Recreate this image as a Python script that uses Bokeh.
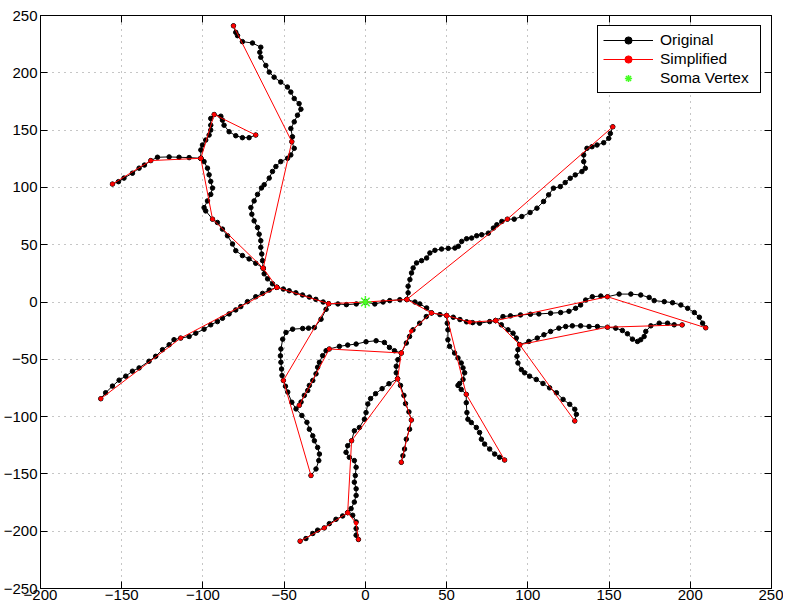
from bokeh.plotting import figure
from bokeh.models import Range1d, FixedTicker, LinearAxis, Legend, LegendItem
from bokeh.embed import file_html
from bokeh.resources import INLINE

# ---------------- axes ----------------
x_ticks = [-200, -150, -100, -50, 0, 50, 100, 150, 200, 250]
x_tick_labels = ["\u2212200", "\u2212150", "\u2212100", "\u221250", "0", "50", "100", "150", "200", "250"]
y_ticks = [-250, -200, -150, -100, -50, 0, 50, 100, 150, 200, 250]
y_tick_labels = ["\u2212250", "\u2212200", "\u2212150", "\u2212100", "\u221250", "0", "50", "100", "150", "200", "250"]

legend_labels = ["Original", "Simplified", "Soma Vertex"]

# ---------------- soma ----------------
soma_x = [0.0]
soma_y = [0.0]

# ---------------- original tracing (branches) ----------------
orig_trunk_left = [(0.0, 0.0), (-5.6, -1.7), (-11.7, -2.3), (-16.9, -1.7), (-22.6, -1.5), (-26.0, 0.0),
                   (-30.5, 2.3), (-34.5, 4.3), (-38.7, 6.1), (-42.8, 8.0), (-46.9, 9.8), (-50.5, 11.3),
                   (-54.5, 12.8)]
orig_left_down = [(-54.5, 12.8), (-59.2, 10.4), (-63.3, 7.5), (-67.5, 4.6), (-72.6, 0.3), (-76.7, -4.0),
                  (-79.8, -6.9), (-83.9, -10.4), (-88.0, -14.2), (-91.1, -17.1), (-95.2, -19.9),
                  (-99.3, -23.7), (-104.4, -27.2), (-108.5, -30.1), (-113.7, -31.5), (-117.8, -32.9),
                  (-120.8, -37.3), (-124.9, -41.6), (-129.1, -47.4), (-133.2, -51.7), (-139.3, -57.5),
                  (-143.4, -60.4), (-147.5, -64.7), (-151.6, -68.2), (-155.7, -73.4), (-159.9, -79.2),
                  (-162.9, -84.4)]
orig_up_stem = [(-54.5, 12.8), (-57.2, 15.9), (-60.2, 20.2), (-62.3, 24.6), (-62.9, 29.5)]
orig_top = [(-62.9, 29.5), (-63.3, 36.1), (-63.8, 41.9), (-64.4, 47.7), (-64.4, 53.5), (-65.4, 59.2),
            (-66.4, 65.0), (-68.5, 70.8), (-69.9, 76.6), (-70.5, 82.4), (-68.5, 88.2), (-66.4, 93.9),
            (-64.0, 99.5), (-62.3, 102.3), (-59.2, 108.1), (-57.2, 113.9), (-55.1, 118.2), (-52.1, 122.5),
            (-47.9, 125.4), (-45.9, 128.3), (-43.8, 134.1), (-45.3, 139.9), (-44.9, 144.2), (-45.9, 151.4),
            (-43.8, 157.2), (-41.8, 163.0), (-39.7, 168.2), (-40.8, 173.1), (-43.8, 177.5), (-45.9, 183.2),
            (-48.0, 187.6), (-52.1, 191.9), (-56.2, 196.2), (-59.2, 200.6), (-61.3, 206.4), (-64.4, 213.6),
            (-65.0, 217.9), (-64.4, 222.3), (-69.5, 226.0), (-75.7, 227.2), (-78.7, 232.4), (-79.8, 235.3),
            (-81.2, 241.0)]
orig_left_up = [(-62.9, 29.5), (-67.5, 33.8), (-71.6, 37.6), (-75.7, 40.5), (-79.8, 44.8), (-81.8, 50.6),
                (-84.9, 57.8), (-88.0, 63.6), (-91.1, 69.4), (-94.1, 72.3), (-98.3, 79.5), (-99.3, 82.4),
                (-97.2, 88.2), (-95.2, 93.9), (-94.1, 99.4), (-95.2, 105.2), (-96.2, 111.0), (-97.2, 116.8),
                (-99.3, 122.5), (-101.3, 125.4)]
orig_far_left = [(-101.3, 125.4), (-108.5, 126.0), (-114.7, 126.3), (-120.8, 126.6), (-128.0, 126.3),
                 (-132.1, 123.4), (-136.0, 119.5), (-139.3, 116.8), (-143.4, 112.4), (-148.6, 108.1),
                 (-152.0, 105.0), (-155.7, 102.9)]
orig_hook = [(-101.3, 125.4), (-101.3, 132.7), (-100.3, 137.0), (-98.3, 141.3), (-96.2, 145.7),
             (-95.2, 150.0), (-95.2, 154.3), (-95.2, 160.1), (-93.1, 163.6), (-89.0, 162.1), (-88.0, 158.7),
             (-87.0, 154.3), (-83.9, 148.6), (-79.8, 145.1), (-75.7, 143.4), (-71.6, 143.4), (-67.5, 145.7)]
orig_L1 = [(-22.6, -1.5), (-24.2, -6.4), (-27.3, -15.0), (-31.4, -22.3), (-35.0, -22.8), (-38.6, -23.1),
           (-44.8, -23.7), (-48.9, -26.6), (-50.9, -32.4), (-52.0, -41.0), (-52.3, -47.0), (-52.0, -52.6),
           (-51.6, -58.5), (-51.3, -64.2), (-50.5, -68.5), (-49.2, -73.5), (-47.8, -78.6), (-45.3, -87.5),
           (-42.7, -93.3), (-39.1, -99.0), (-36.0, -105.0), (-34.5, -111.0), (-32.4, -116.8),
           (-31.4, -121.1), (-29.4, -126.9), (-28.3, -132.7), (-28.7, -138.4), (-30.4, -145.7),
           (-33.5, -151.4)]
orig_trunk_right = [(0.0, 0.0), (5.8, -1.7), (10.9, 0.0), (15.0, 1.2), (21.2, 2.0), (25.5, 2.2), (30.5, 0.0),
                    (33.5, -1.7), (37.7, -5.2), (40.7, -9.5), (45.9, -11.0), (50.0, -11.8), (54.1, -13.3),
                    (58.2, -15.3), (62.3, -17.3), (66.0, -18.0), (70.3, -18.5), (76.5, -17.1), (80.2, -16.2)]
orig_up_right = [(25.5, 2.2), (26.3, 8.0), (26.3, 13.8), (27.4, 19.6), (28.4, 25.4), (29.4, 29.7), (31.5, 34.1),
                 (34.6, 36.1), (37.7, 38.4), (39.7, 42.8), (42.8, 45.1), (46.9, 46.2), (51.0, 46.8),
                 (55.1, 47.1), (57.2, 48.6), (59.3, 52.9), (62.3, 55.2), (65.4, 55.8), (68.5, 57.8),
                 (71.6, 58.7), (75.7, 60.1), (78.8, 64.5), (80.9, 67.4), (84.0, 70.3), (87.4, 72.3),
                 (91.6, 72.3), (96.3, 74.6), (101.4, 78.1), (105.6, 81.9), (109.7, 87.7), (112.8, 93.5),
                 (115.8, 99.3), (120.0, 100.7), (123.0, 104.2), (126.1, 108.0), (129.2, 110.9),
                 (133.3, 113.8), (135.4, 116.7), (134.4, 122.5), (134.4, 128.3), (136.4, 134.1),
                 (139.5, 135.5), (142.6, 137.0), (146.7, 139.0), (149.8, 142.8), (150.8, 147.1),
                 (152.3, 152.9)]
orig_L3 = [(40.7, -9.5), (37.5, -12.7), (33.4, -18.5), (29.3, -24.3), (27.2, -30.1), (25.2, -35.8),
           (22.1, -44.5), (20.0, -50.3), (19.0, -56.1), (19.0, -61.8), (19.8, -67.0), (21.6, -72.8),
           (23.7, -81.5), (24.7, -88.7), (26.8, -95.9), (28.3, -103.0), (27.2, -111.0), (25.2, -119.7),
           (24.1, -128.3), (23.1, -134.1), (22.1, -139.9)]
orig_L2 = [(22.1, -44.5), (17.9, -42.5), (14.8, -39.6), (11.7, -35.3), (6.6, -33.8), (0.4, -34.7),
           (-5.7, -36.7), (-10.9, -37.6), (-16.0, -38.7), (-22.2, -41.0), (-24.2, -42.5), (-26.3, -46.8),
           (-28.3, -52.6), (-29.4, -56.9), (-30.4, -62.7), (-32.4, -68.5), (-34.5, -72.8), (-35.5, -77.2),
           (-37.6, -81.5), (-39.6, -87.3), (-40.7, -90.2)]
orig_L4 = [(19.8, -67.0), (14.5, -71.3), (10.3, -75.6), (6.3, -80.0), (3.2, -84.3), (1.5, -89.0), (0.4, -96.5),
           (-0.6, -102.3), (-3.7, -109.5), (-6.8, -112.4), (-8.5, -121.1), (-10.9, -125.4), (-11.9, -131.2),
           (-9.9, -135.5), (-6.8, -138.4), (-5.7, -144.2), (-6.2, -151.4), (-6.8, -157.2), (-5.7, -163.0),
           (-5.7, -168.8), (-6.8, -174.6), (-8.8, -180.3), (-10.9, -183.8), (-14.0, -186.7),
           (-18.1, -189.6), (-22.2, -193.4), (-25.3, -197.1), (-29.4, -199.1), (-32.4, -202.0),
           (-36.6, -206.4), (-40.2, -208.7)]
orig_L4b = [(-10.9, -183.8), (-7.8, -186.1), (-5.7, -191.9), (-5.7, -197.7), (-5.7, -203.5), (-4.3, -207.2)]
orig_L5 = [(50.0, -11.8), (50.4, -18.5), (50.8, -24.3), (50.8, -32.9), (51.8, -38.7), (54.9, -44.5),
           (57.0, -48.8), (59.0, -53.2), (60.1, -57.5), (61.1, -61.8), (60.1, -67.6), (58.0, -71.1),
           (57.0, -72.8), (59.0, -76.3), (62.1, -80.6), (62.1, -87.9), (62.5, -96.5), (63.1, -102.3),
           (65.2, -105.2), (68.3, -109.5), (70.3, -113.9), (71.4, -119.7), (73.4, -124.0), (76.5, -128.3),
           (79.6, -132.7), (82.6, -135.5), (85.7, -137.9)]
orig_R1 = [(80.2, -16.2), (84.7, -12.7), (89.3, -12.1), (95.5, -11.3), (101.6, -10.7), (106.8, -10.4),
           (114.0, -9.8), (120.2, -9.2), (125.3, -8.1), (129.4, -5.5), (132.5, -2.6), (135.6, 1.7),
           (139.7, 4.6), (144.9, 5.2), (149.0, 4.6), (156.2, 6.9), (163.4, 6.9), (169.5, 6.1), (174.7, 4.0),
           (177.8, 1.2), (184.0, 0.3), (189.1, -0.6), (194.2, -2.6), (198.4, -5.5), (202.5, -9.2),
           (205.6, -13.3), (207.6, -18.5), (209.5, -22.5)]
orig_L6 = [(80.2, -16.2), (83.7, -19.9), (87.8, -24.3), (90.9, -27.2), (92.9, -31.5), (95.0, -37.3),
           (93.9, -41.6), (93.3, -47.4), (93.9, -53.2), (96.0, -59.0), (98.0, -61.8), (101.1, -64.7),
           (105.2, -67.6), (109.3, -71.1), (113.4, -74.9), (117.6, -79.2), (121.7, -85.0), (125.8, -89.3),
           (128.9, -93.6), (129.9, -98.0), (128.9, -103.8)]
orig_R2 = [(95.0, -37.3), (100.6, -34.4), (105.8, -31.5), (109.9, -28.6), (114.0, -25.7), (119.1, -22.8),
           (123.3, -21.4), (127.4, -20.8), (132.5, -20.8), (137.7, -21.4), (142.8, -21.4), (149.0, -22.0),
           (154.1, -22.8), (158.2, -24.9), (161.3, -27.7), (164.4, -32.4), (167.5, -34.4), (169.5, -32.9),
           (171.6, -30.1), (172.6, -25.7), (175.7, -20.8), (180.9, -18.5), (186.0, -18.5), (190.1, -19.9),
           (195.0, -20.0)]

original_branches = [orig_trunk_left, orig_left_down, orig_up_stem, orig_top, orig_left_up, orig_far_left,
                     orig_hook, orig_L1, orig_trunk_right, orig_up_right, orig_L3, orig_L2, orig_L4,
                     orig_L4b, orig_L5, orig_R1, orig_L6, orig_R2]

# ---------------- simplified tracing ----------------
simp_1 = [(0.0, 0.0), (-22.6, -1.5), (-54.5, 12.8), (-113.7, -31.5), (-162.9, -84.4)]
simp_2 = [(-54.5, 12.8), (-62.9, 29.5), (-45.3, 139.9), (-81.2, 241.0)]
simp_3 = [(-62.9, 29.5), (-94.1, 72.3), (-101.3, 125.4), (-132.1, 123.4), (-155.7, 102.9)]
simp_4 = [(-101.3, 125.4), (-93.1, 163.6), (-67.5, 145.7)]
simp_5 = [(-22.6, -1.5), (-50.5, -68.5), (-33.5, -151.4)]
simp_6 = [(0.0, 0.0), (25.5, 2.2), (87.4, 72.3), (152.3, 152.9)]
simp_7 = [(25.5, 2.2), (40.7, -9.5), (50.0, -11.8), (64.2, -17.6), (80.2, -16.2), (149.0, 4.6), (209.5, -22.5)]
simp_8 = [(40.7, -9.5), (28.2, -25.5), (22.1, -44.5), (19.8, -67.0), (28.3, -103.0), (22.1, -139.9)]
simp_9 = [(22.1, -44.5), (-22.2, -41.0), (-40.7, -90.2)]
simp_10 = [(19.8, -67.0), (-8.5, -121.1), (-10.9, -183.8), (-25.3, -197.1), (-40.2, -208.7)]
simp_11 = [(-10.9, -183.8), (-5.7, -193.0), (-4.3, -207.2)]
simp_12 = [(50.0, -11.8), (62.1, -80.6), (85.7, -137.9)]
simp_13 = [(80.2, -16.2), (95.0, -37.3), (128.9, -103.8)]
simp_14 = [(95.0, -37.3), (149.0, -22.0), (195.0, -20.0)]

simplified_branches = [simp_1, simp_2, simp_3, simp_4, simp_5, simp_6, simp_7, simp_8, simp_9,
                       simp_10, simp_11, simp_12, simp_13, simp_14]


def split(branches):
    xs = [[pt[0] for pt in br] for br in branches]
    ys = [[pt[1] for pt in br] for br in branches]
    px = [v for br in xs for v in br]
    py = [v for br in ys for v in br]
    return xs, ys, px, py


o_xs, o_ys, o_px, o_py = split(original_branches)
s_xs, s_ys, s_px, s_py = split(simplified_branches)

FONT = "Liberation Sans"

p = figure(x_range=Range1d(-200, 250), y_range=Range1d(-250, 250),
           frame_width=731, frame_height=573,
           min_border_left=37, min_border_right=12, min_border_top=15, min_border_bottom=17,
           output_backend="svg", toolbar_location=None,
           background_fill_color="white", border_fill_color="white")

p.outline_line_color = "black"
p.outline_line_width = 1

for ax, ticks, labels in ((p.xaxis[0], x_ticks, x_tick_labels), (p.yaxis[0], y_ticks, y_tick_labels)):
    ax.ticker = FixedTicker(ticks=ticks)
    ax.major_label_overrides = {t: l for t, l in zip(ticks, labels)}
    ax.major_label_text_font = FONT
    ax.major_label_text_font_size = "15px"
    ax.major_label_text_color = "black"
    ax.major_tick_in = 7
    ax.major_tick_out = 0
    ax.minor_tick_line_color = None
    ax.major_tick_line_color = "black"
    ax.axis_line_color = "black"
    ax.major_label_standoff = 3

p.xaxis[0].major_label_standoff = 1

# mirrored inner ticks on the top and right edges (box on), without labels
top_axis = LinearAxis(ticker=FixedTicker(ticks=x_ticks), major_label_text_font_size="0px",
                      major_label_text_color=None,
                      major_tick_in=7, major_tick_out=0, minor_tick_line_color=None,
                      major_label_standoff=0, axis_line_color="black", major_tick_line_color="black")
right_axis = LinearAxis(ticker=FixedTicker(ticks=y_ticks), major_label_text_font_size="0px",
                        major_label_text_color=None,
                        major_tick_in=7, major_tick_out=0, minor_tick_line_color=None,
                        major_label_standoff=0, axis_line_color="black", major_tick_line_color="black")
p.add_layout(top_axis, "above")
p.add_layout(right_axis, "right")

p.xgrid.ticker = FixedTicker(ticks=x_ticks)
p.ygrid.ticker = FixedTicker(ticks=y_ticks)
p.grid.grid_line_color = "#8c8c8c"
p.grid.grid_line_dash = "1 5"
p.grid.grid_line_width = 1

r_orig_line = p.multi_line(xs=o_xs, ys=o_ys, line_color="black", line_width=1)
r_orig_pts = p.scatter(x=o_px, y=o_py, marker="circle", size=4.5, fill_color="black", line_color="black")
r_simp_line = p.multi_line(xs=s_xs, ys=s_ys, line_color="#ff0000", line_width=1)
r_simp_pts = p.scatter(x=s_px, y=s_py, marker="circle", size=3.5, fill_color="#ff0000", line_color="#ff0000")
r_soma = p.scatter(x=soma_x, y=soma_y, marker="asterisk", size=12, line_color="#44ff22", line_width=1.5)

legend = Legend(items=[LegendItem(label=legend_labels[0], renderers=[r_orig_line, r_orig_pts]),
                       LegendItem(label=legend_labels[1], renderers=[r_simp_line, r_simp_pts]),
                       LegendItem(label=legend_labels[2], renderers=[r_soma])],
                location="top_right", margin=10, padding=5, spacing=1,
                glyph_width=50, glyph_height=18, label_height=18, label_width=95, label_standoff=7,
                label_text_font=FONT, label_text_font_size="15.5px", label_text_color="black",
                border_line_color="black", border_line_width=1, border_line_alpha=1,
                background_fill_color="white", background_fill_alpha=1)
p.add_layout(legend)

open("out.html", "w").write(file_html(p, INLINE))
